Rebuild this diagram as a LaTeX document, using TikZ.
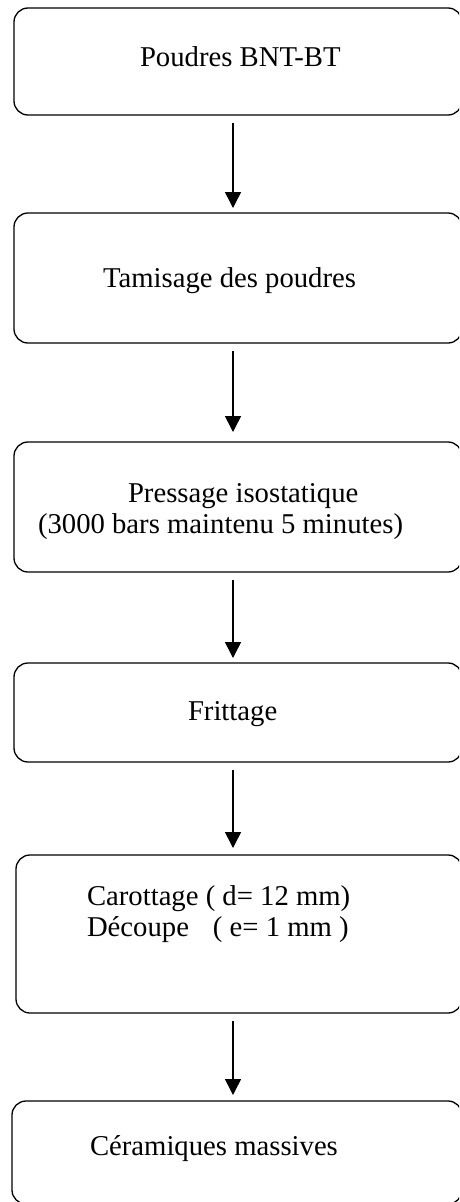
\documentclass[tikz,border=0pt]{standalone}
\usepackage{fontspec}
\setmainfont{Liberation Serif}
\usetikzlibrary{arrows.meta}
\begin{document}
\begin{tikzpicture}[x=1pt,y=-1pt,
  box/.style={draw, line width=1.3pt, rounded corners=14pt, inner sep=0pt, outer sep=0pt, anchor=north west},
  lbl/.style={anchor=base west, inner sep=0pt, outer sep=0pt, font=\fontsize{28.7}{33}\selectfont},
  arr/.style={line width=1.5pt, -{Triangle[length=16pt,width=16pt]}}]
\useasboundingbox (0,0) rectangle (459,1202);
\clip (0,0) rectangle (459,1202);
% boxes
\node[box, minimum width=448pt, minimum height=107pt] (b1) at (14,8) {};
\node[box, minimum width=448pt, minimum height=130pt] (b2) at (14,213) {};
\node[box, minimum width=448pt, minimum height=130pt] (b3) at (14,442) {};
\node[box, minimum width=448pt, minimum height=99pt] (b4) at (14,663) {};
\node[box, minimum width=446pt, minimum height=158pt] (b5) at (16,855) {};
\node[box, minimum width=450pt, minimum height=103pt] (b6) at (12,1101) {};
% texts
\node[lbl] (t1) at (140,66) {Poudres BNT-BT};
\node[lbl] (t2) at (103,287) {Tamisage des poudres};
\node[lbl] (t3a) at (128,502) {Pressage isostatique};
\node[lbl] (t3b) at (38,533) {(3000 bars maintenu 5 minutes)};
\node[lbl] (t4) at (188,720) {Frittage};
\node[lbl] (t5a) at (87,905) {Carottage ( d= 12 mm)};
\node[lbl] (t5b) at (87,936) {Découpe\hspace{24pt}( e= 1 mm )};
\node[lbl] (t6) at (90,1155) {Céramiques massives};
% arrows
\coordinate (ax) at (233,0);
\draw[arr, shorten <=8pt, shorten >=5pt] (b1.south -| ax) -- (b2.north -| ax);
\draw[arr, shorten <=8pt, shorten >=10pt] (b2.south -| ax) -- (b3.north -| ax);
\draw[arr, shorten <=8pt, shorten >=5pt] (b3.south -| ax) -- (b4.north -| ax);
\draw[arr, shorten <=8pt, shorten >=7pt] (b4.south -| ax) -- (b5.north -| ax);
\draw[arr, shorten <=8pt, shorten >=6pt] (b5.south -| ax) -- (b6.north -| ax);
\end{tikzpicture}
\end{document}
